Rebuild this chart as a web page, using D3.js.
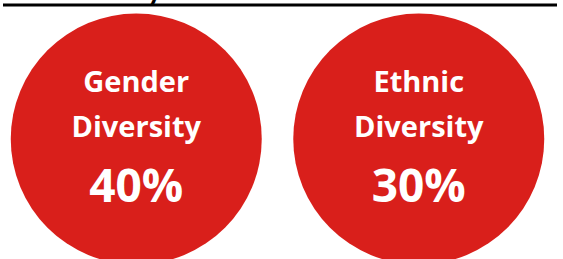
<!DOCTYPE html>
<html>
<head>
<meta charset="utf-8">
<script src="https://cdn.jsdelivr.net/npm/d3@7"></script>
<style>
  body { margin:0; background:#fff; }
  svg { display:block; }
  .label { font-family: "Open Sans", Lato, sans-serif; font-weight:700; fill:#fff; }
</style>
</head>
<body>
<svg id="diversity"></svg>
<script>
// top-level data
var categories = ["Gender Diversity", "Ethnic Diversity"];
var labelLines = [["Gender", "Diversity"], ["Ethnic", "Diversity"]];
var percentValues = [40, 30];

var initDiversity = function()
{
    var screen = {width:563, height:259};

    var svg = d3.select("#diversity")
        .attr("width", screen.width)
        .attr("height", screen.height);

    // title clipped at the top, only the rule and a descender remain
    svg.append("text")
       .text("Board Diversity")
       .attr("x", 163)
       .attr("y", -1)
       .attr("text-anchor", "end")
       .style("font-family", "Lato, sans-serif")
       .style("font-weight", "700")
       .style("font-size", "30px")
       .attr("fill", "#000");

    svg.append("line")
       .attr("x1", 3).attr("x2", 557)
       .attr("y1", 5).attr("y2", 5)
       .attr("stroke", "#000")
       .attr("stroke-width", 3);

    var xScale = d3.scaleBand()
        .domain(categories)
        .range([-5, 560]);

    var data = categories.map(function(c, i) {
        return {name:c, lines:labelLines[i], value:percentValues[i]};
    });

    var radius = 125.5;
    var cy = 139;

    var groups = svg.selectAll("g.item")
        .data(data)
        .enter()
        .append("g")
        .classed("item", true)
        .attr("transform", function(d) {
            return "translate(" + (xScale(d.name) + xScale.bandwidth()/2) + "," + cy + ")";
        });

    groups.append("circle")
          .attr("r", radius)
          .attr("fill", "#D91F1B");

    groups.each(function(d) {
        var g = d3.select(this);
        d.lines.forEach(function(line, j) {
            g.append("text")
             .classed("label", true)
             .text(line)
             .attr("text-anchor", "middle")
             .attr("y", -47 + j*45)
             .style("font-size", "29px");
        });
        g.append("text")
         .classed("label", true)
         .text(d3.format("d")(d.value) + "%")
         .attr("text-anchor", "middle")
         .attr("y", 63)
         .style("font-size", "46px");
    });
};

initDiversity();
</script>
</body>
</html>
